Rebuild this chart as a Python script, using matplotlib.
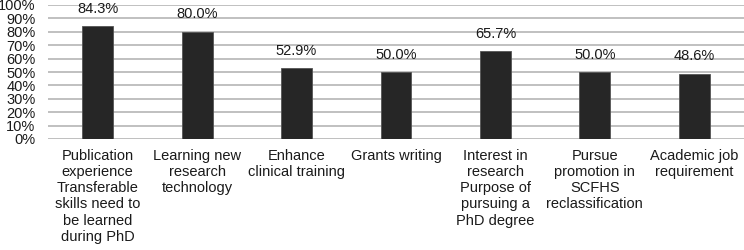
import matplotlib
matplotlib.use("Agg")
import matplotlib.pyplot as plt
import numpy as np

categories = [
    "Publication\nexperience\nTransferable\nskills need to\nbe learned\nduring PhD",
    "Learning new\nresearch\ntechnology",
    "Enhance\nclinical training",
    "Grants writing",
    "Interest in\nresearch\nPurpose of\npursuing a\nPhD degree",
    "Pursue\npromotion in\nSCFHS\nreclassification",
    "Academic job\nrequirement",
]
values = [84.3, 80.0, 52.9, 50.0, 65.7, 50.0, 48.6]
yticks = list(range(0, 101, 10))

plt.rcParams['font.family'] = ['Liberation Sans', 'DejaVu Sans']
plt.rcParams['font.size'] = 10.5

fig = plt.figure(figsize=(7.44, 2.5), dpi=100)
ax = fig.add_axes([48/744, 1-139/250, 696/744, 134/250])

x = np.arange(len(categories))
ax.bar(x, values, width=0.31, color='#262626', edgecolor='#555555', linewidth=0.6, zorder=3)
for xi, v in zip(x, values):
    ax.annotate(f"{v:.1f}%", (xi, v), xytext=(0, 7.5), textcoords='offset points',
                ha='center', va='bottom', color='#1a1a1a', fontsize=10.5)

ax.set_xlim(-0.5, len(categories) - 0.5)
ax.set_ylim(0, 100)
ax.set_yticks(yticks)
ax.set_yticklabels([f"{t}%" for t in yticks])
ax.set_xticks(x)
ax.set_xticklabels(categories, linespacing=1.2)
ax.yaxis.grid(True, color='#c0c0c0', linewidth=1.4, zorder=0)
ax.set_axisbelow(True)
ax.tick_params(axis='both', length=0, colors='#1a1a1a')
ax.tick_params(axis='x', pad=7)
ax.tick_params(axis='y', pad=9)
for s in ax.spines.values():
    s.set_visible(False)
ax.axhline(0, color='#c0c0c0', linewidth=1.4, zorder=1)

fig.savefig("out.png", dpi=100)
